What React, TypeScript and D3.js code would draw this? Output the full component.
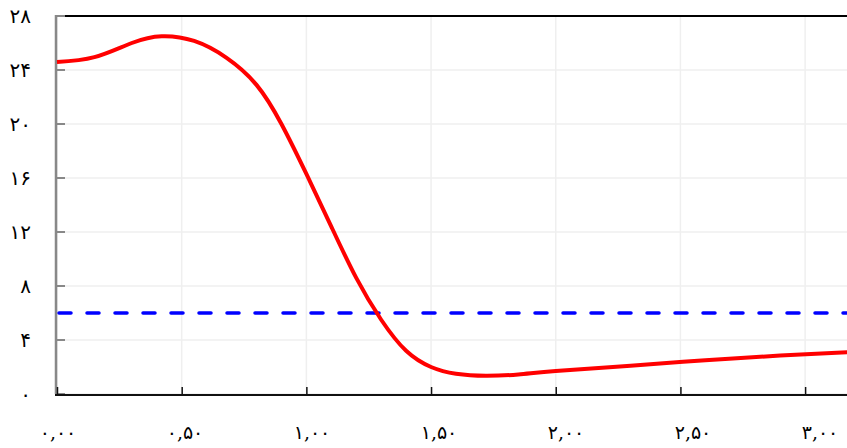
import { useRef, useEffect } from "react"
import * as d3 from "d3"

// curve samples
const xValues = [0, 0.15, 0.3, 0.42, 0.55, 0.68, 0.8, 0.9, 1.0, 1.1, 1.2, 1.3, 1.4, 1.5, 1.6, 1.72, 1.85, 2.0, 2.3, 2.6, 2.9, 3.17]
const yValues = [24.6, 24.95, 26.0, 26.5, 26.15, 24.9, 22.9, 20.0, 16.3, 12.4, 8.6, 5.5, 3.2, 2.0, 1.5, 1.35, 1.45, 1.7, 2.1, 2.5, 2.85, 3.1]
const thresholdValue = 6

const xTicks = [0, 0.5, 1, 1.5, 2, 2.5, 3]
const xTickLabels = ["۰,۰۰", "۰,۵۰", "۱,۰۰", "۱,۵۰", "۲,۰۰", "۲,۵۰", "۳,۰۰"]
const yTicks = [0, 4, 8, 12, 16, 20, 24, 28]
const yTickLabels = ["۰", "۴", "۸", "۱۲", "۱۶", "۲۰", "۲۴", "۲۸"]

const W = 847
const H = 448

const App = () => {
  const svgRef = useRef<SVGSVGElement>(null)

  useEffect(() => {
    const svg = d3.select(svgRef.current)
    svg.selectAll("*").remove()

    const left = 57
    const right = 847
    const top = 16
    const bottom = 394

    const x = d3.scaleLinear().domain([0, 3.168]).range([left, right])
    const y = d3.scaleLinear().domain([0, 28]).range([bottom, top])
    // labels drift a bit to the right of their ticks in the original
    const xLab = d3.scaleLinear().domain([0, 3]).range([58, 820])

    const font = "'DejaVu Serif', 'DejaVu Sans', serif"

    // grid
    const grid = svg.append("g")
    grid
      .selectAll("line.v")
      .data(xTicks)
      .enter()
      .append("line")
      .attr("x1", (d) => x(d))
      .attr("x2", (d) => x(d))
      .attr("y1", top)
      .attr("y2", bottom)
      .attr("stroke", "#efefef")
      .attr("stroke-width", 1.5)
    grid
      .selectAll("line.h")
      .data(yTicks)
      .enter()
      .append("line")
      .attr("x1", left)
      .attr("x2", right)
      .attr("y1", (d) => y(d))
      .attr("y2", (d) => y(d))
      .attr("stroke", "#efefef")
      .attr("stroke-width", 1.5)

    // top border
    svg
      .append("line")
      .attr("x1", left + 8)
      .attr("x2", right)
      .attr("y1", top)
      .attr("y2", top)
      .attr("stroke", "#000")
      .attr("stroke-width", 2)

    // left axis
    svg
      .append("line")
      .attr("x1", left - 1)
      .attr("x2", left - 1)
      .attr("y1", top - 1)
      .attr("y2", bottom)
      .attr("stroke", "#888")
      .attr("stroke-width", 2.5)
    svg
      .append("g")
      .selectAll("line")
      .data(yTicks)
      .enter()
      .append("line")
      .attr("x1", left)
      .attr("x2", left + 8)
      .attr("y1", (d) => y(d))
      .attr("y2", (d) => y(d))
      .attr("stroke", "#888")
      .attr("stroke-width", 2)

    // bottom axis
    svg
      .append("line")
      .attr("x1", left - 2)
      .attr("x2", right)
      .attr("y1", bottom + 1)
      .attr("y2", bottom + 1)
      .attr("stroke", "#111")
      .attr("stroke-width", 2)
    svg
      .append("g")
      .selectAll("line")
      .data(xTicks)
      .enter()
      .append("line")
      .attr("x1", (d) => x(d) + 0.5)
      .attr("x2", (d) => x(d) + 0.5)
      .attr("y1", bottom - 7)
      .attr("y2", bottom)
      .attr("stroke", "#111")
      .attr("stroke-width", 1.5)

    // tick labels
    svg
      .append("g")
      .selectAll("text")
      .data(yTicks)
      .enter()
      .append("text")
      .attr("x", 31)
      .attr("y", (d) => y(d))
      .attr("dy", "0.35em")
      .attr("text-anchor", "end")
      .style("font-family", font)
      .style("font-size", "20px")
      .style("fill", "#000")
      .text((d, i) => yTickLabels[i])

    svg
      .append("g")
      .selectAll("text")
      .data(xTicks)
      .enter()
      .append("text")
      .attr("x", (d) => xLab(d))
      .attr("y", 432)
      .attr("dy", "0.35em")
      .attr("text-anchor", "middle")
      .style("font-family", font)
      .style("font-size", "19px")
      .style("fill", "#000")
      .text((d, i) => xTickLabels[i])

    // threshold
    svg
      .append("line")
      .attr("x1", left + 2)
      .attr("x2", right)
      .attr("y1", y(thresholdValue))
      .attr("y2", y(thresholdValue))
      .attr("stroke", "#0000ff")
      .attr("stroke-width", 3.5)
      .attr("stroke-linecap", "round")
      .attr("stroke-dasharray", "12,16")

    // curve
    const pts = xValues.map((v, i) => [v, yValues[i]] as [number, number])
    const line = d3
      .line<[number, number]>()
      .x((d) => x(d[0]))
      .y((d) => y(d[1]))
      .curve(d3.curveNatural)
    svg
      .append("path")
      .datum(pts)
      .attr("fill", "none")
      .attr("stroke", "#ff0000")
      .attr("stroke-width", 4)
      .attr("d", line)
  }, [])

  return (
    <svg
      ref={svgRef}
      width={W}
      height={H}
      style={{ position: "absolute", left: 0, top: 0, background: "#fff" }}
    ></svg>
  )
}

export default App
